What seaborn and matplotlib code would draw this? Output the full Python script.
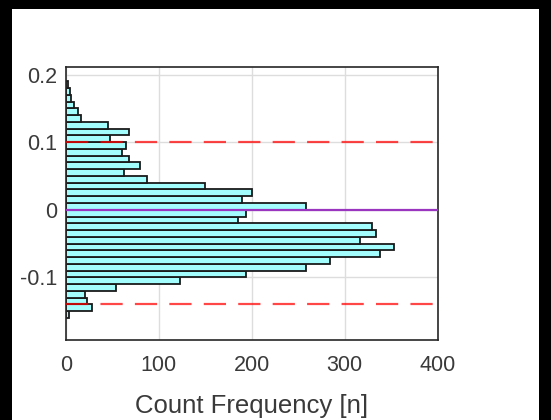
import numpy as np
import pandas as pd
import matplotlib
matplotlib.use("Agg")
import matplotlib.pyplot as plt
import seaborn as sns
from matplotlib.patches import Rectangle

# Histogram of residuals: lower bin edges (width 0.01) and counts per bin
bin_lower = [-0.16, -0.15, -0.14, -0.13, -0.12, -0.11, -0.10, -0.09, -0.08, -0.07,
             -0.06, -0.05, -0.04, -0.03, -0.02, -0.01, 0.00, 0.01, 0.02, 0.03,
             0.04, 0.05, 0.06, 0.07, 0.08, 0.09, 0.10, 0.11, 0.12, 0.13,
             0.14, 0.15, 0.16, 0.17, 0.18]
bin_width = 0.01
counts = [4, 28, 23, 21, 54, 123, 194, 258, 284, 338,
          353, 317, 334, 330, 185, 194, 259, 190, 200, 150,
          88, 63, 80, 68, 61, 65, 48, 68, 46, 16,
          13, 9, 6, 5, 3]

# Reference lines
center_line = 0.0
limit_lines = [0.1, -0.14]

x_ticks = [0, 100, 200, 300, 400]
y_ticks = [-0.1, 0, 0.1, 0.2]
y_ticklabels = ["-0.1", "0", "0.1", "0.2"]
x_label = "Count Frequency [n]"

sns.set_style("white")
plt.rcParams["font.family"] = ["Liberation Sans", "DejaVu Sans"]

text_color = "#3a3a3a"

W, H = 551, 420
fig = plt.figure(figsize=(W / 100, H / 100), dpi=100)
ax = fig.add_axes([65.7 / W, 1 - 339.5 / H, (437.5 - 65.7) / W, (339.5 - 66.5) / H])

df = pd.DataFrame({"value": np.array(bin_lower) + bin_width / 2, "n": counts})
edges = list(bin_lower) + [round(bin_lower[-1] + bin_width, 2)]

ax.set_axisbelow(True)
ax.grid(True, color="#dddddd", linewidth=1.0)

sns.histplot(data=df, y="value", weights="n", bins=edges, ax=ax,
             color="#a3fdfd", alpha=1.0, edgecolor="#1a1a1a", linewidth=1.3)

for yv in limit_lines:
    ax.axhline(yv, color=(1, 0, 0, 0.72), linewidth=1.6, linestyle=(0, (10, 5.5)), zorder=5)
ax.axhline(center_line, color="#9a35c0", linewidth=1.6, zorder=5)

ax.set_xlim(0, 400)
ax.set_ylim(-0.192, 0.212)
ax.set_xticks(x_ticks)
ax.set_yticks(y_ticks)
ax.set_yticklabels(y_ticklabels)
ax.set_xlabel(x_label, fontsize=18.5, color=text_color, labelpad=13)
ax.set_ylabel("")
ax.tick_params(axis="both", direction="in", length=4, width=0.8, color="#262626",
               labelsize=15.5, labelcolor=text_color)
ax.tick_params(axis="x", pad=11)
ax.tick_params(axis="y", pad=6)
for sp in ax.spines.values():
    sp.set_visible(True)
    sp.set_color("#262626")
    sp.set_linewidth(1.2)

# Black frame around the figure (left, top, right)
for (x0, y0, w, h) in [(0, 0, 12, H), (0, H - 9, W, 9), (W - 12, 0, 12, H)]:
    fig.patches.append(Rectangle((x0 / W, y0 / H), w / W, h / H, transform=fig.transFigure,
                                 facecolor="black", edgecolor="none", zorder=10))

fig.savefig("out.png", dpi=100)
